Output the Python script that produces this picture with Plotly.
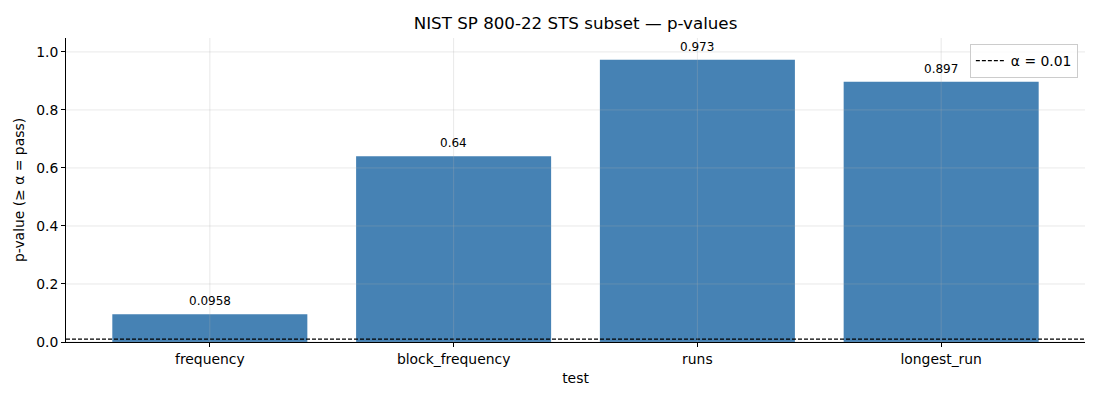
import plotly.graph_objects as go

tests = ["frequency", "block_frequency", "runs", "longest_run"]
p_values = [0.0958, 0.64, 0.973, 0.897]
p_labels = ["0.0958", "0.64", "0.973", "0.897"]
alpha = 0.01
y_ticks = [0.0, 0.2, 0.4, 0.6, 0.8, 1.0]

pos = list(range(len(tests)))
x_range = [-0.59, len(tests) - 1 + 0.59]

fig = go.Figure()

fig.add_trace(go.Bar(
    x=pos, y=p_values, width=0.8,
    marker=dict(color="#4682b4", line=dict(width=0)),
    showlegend=False, hoverinfo="x+y",
))

# alpha threshold across the whole axis
fig.add_trace(go.Scatter(
    x=x_range, y=[alpha, alpha], mode="lines",
    line=dict(color="black", width=1.2, dash="4px,2px"),
    name="α = 0.01",
))

# value labels above the bars
for i, (v, lab) in enumerate(zip(p_values, p_labels)):
    fig.add_annotation(x=i, y=v, text=lab, showarrow=False, yanchor="bottom",
                       yshift=4, font=dict(size=12, color="black"))

# grid drawn over the bars like matplotlib's default
for t in y_ticks:
    fig.add_shape(type="line", xref="paper", x0=0, x1=1, yref="y", y0=t, y1=t,
                  line=dict(color="rgba(176,176,176,0.35)", width=0.8), layer="above")
for i in pos:
    fig.add_shape(type="line", xref="x", x0=i, x1=i, yref="paper", y0=0, y1=1,
                  line=dict(color="rgba(176,176,176,0.35)", width=0.8), layer="above")

fig.update_layout(
    width=1100, height=400,
    margin=dict(l=58, r=23, t=30, b=66, autoexpand=False),
    paper_bgcolor="white", plot_bgcolor="white",
    font=dict(family="DejaVu Sans", size=13.9, color="black"),
    title=dict(text="NIST SP 800-22 STS subset — p-values", x=0.5, xanchor="center",
               xref="paper", y=0.976, yanchor="top", font=dict(size=16.7)),
    legend=dict(x=0.993, y=0.98, xanchor="right", yanchor="top",
                bgcolor="rgba(255,255,255,0.8)", bordercolor="#cccccc", borderwidth=1,
                font=dict(size=13.9)),
    xaxis=dict(
        range=x_range, tickvals=pos, ticktext=tests, automargin=False,
        title=dict(text="test", font=dict(size=13.9), standoff=7),
        showline=True, linecolor="black", linewidth=1, ticks="outside",
        ticklen=4, tickcolor="black", showgrid=False, zeroline=False,
    ),
    yaxis=dict(
        range=[0, 1.048], automargin=False,
        title=dict(text="p-value (≥ α = pass)", font=dict(size=13.9), standoff=8),
        tickvals=y_ticks, ticktext=[f"{v:.1f}" for v in y_ticks],
        showline=True, linecolor="black", linewidth=1, ticks="outside",
        ticklen=4, tickcolor="black", showgrid=False, zeroline=False,
    ),
)

fig.write_html("out.html")
